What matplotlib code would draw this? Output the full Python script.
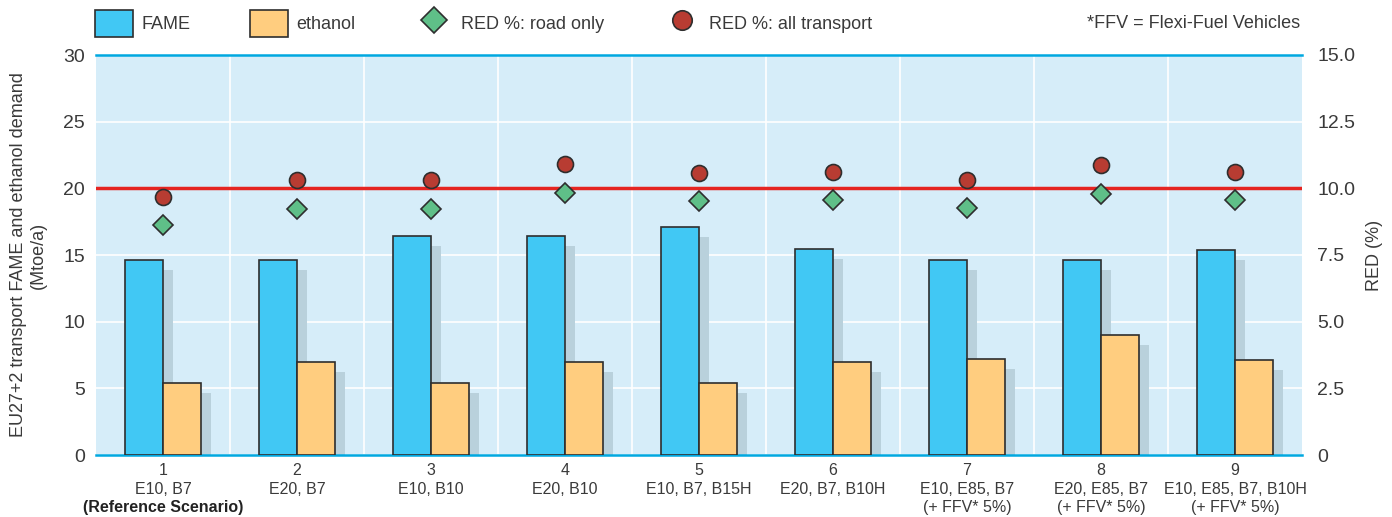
import matplotlib
matplotlib.use("Agg")
import matplotlib.pyplot as plt
import numpy as np
from matplotlib.lines import Line2D
from matplotlib.patches import Patch

plt.rcParams["font.family"] = ["Liberation Sans", "DejaVu Sans"]

scenarios = ["1", "2", "3", "4", "5", "6", "7", "8", "9"]
blends = ["E10, B7", "E20, B7", "E10, B10", "E20, B10", "E10, B7, B15H",
          "E20, B7, B10H", "E10, E85, B7", "E20, E85, B7", "E10, E85, B7, B10H"]
notes = ["(Reference Scenario)", "", "", "", "", "",
         "(+ FFV* 5%)", "(+ FFV* 5%)", "(+ FFV* 5%)"]
fame = [14.6, 14.6, 16.4, 16.4, 17.1, 15.45, 14.6, 14.6, 15.4]
ethanol = [5.4, 7.0, 5.4, 6.95, 5.4, 7.0, 7.2, 9.0, 7.15]
red_road = [8.62, 9.22, 9.22, 9.82, 9.52, 9.56, 9.26, 9.79, 9.56]
red_all = [9.67, 10.31, 10.3, 10.91, 10.57, 10.61, 10.3, 10.87, 10.6]
red_target = 10.0
left_ticks = [0, 5, 10, 15, 20, 25, 30]
right_ticks = [0, 2.5, 5.0, 7.5, 10.0, 12.5, 15.0]
right_labels = ["0", "2.5", "5.0", "7.5", "10.0", "12.5", "15.0"]

c_fame = "#41c8f4"
c_eth = "#ffcd7f"
c_shadow = "#b9d1dc"
c_bg = "#d6edf9"
c_edge = "#2e2e2e"
c_text = "#3a3a3a"
c_axis = "#00a8e0"

fig = plt.figure(figsize=(13.92, 5.17), dpi=100)
ax = fig.add_axes([96 / 1392, 1 - 455 / 517, 1206 / 1392, 400 / 517])
ax.set_facecolor(c_bg)

x = np.arange(1, len(scenarios) + 1)
w = 0.284
dx, dy = 0.075, 0.75

# drop shadows
ax.bar(x - w / 2 + dx, np.array(fame) - dy, w, color=c_shadow, zorder=2)
ax.bar(x + w / 2 + dx, np.array(ethanol) - dy, w, color=c_shadow, zorder=2)
ax.bar(x - w / 2, fame, w, color=c_fame, edgecolor=c_edge, linewidth=1.2, zorder=3)
ax.bar(x + w / 2, ethanol, w, color=c_eth, edgecolor=c_edge, linewidth=1.2, zorder=3)

ax.set_xlim(0.5, len(scenarios) + 0.5)
ax.set_ylim(0, 30)
ax.set_yticks(left_ticks)
ax.set_xticks(x)
ax.set_xticklabels([f"{s}\n{b}" for s, b in zip(scenarios, blends)],
                   fontsize=12, color=c_text, linespacing=1.3)
ax.set_xticks(np.arange(1.5, len(scenarios)), minor=True)
ax.tick_params(axis="both", which="both", length=0, labelsize=14, labelcolor=c_text)
ax.tick_params(axis="y", pad=8)
ax.tick_params(axis="x", labelsize=11.5, pad=6)
ax.grid(axis="y", color="white", linewidth=1.2, zorder=0)
ax.grid(axis="x", which="minor", color="white", linewidth=1.2, zorder=0)
ax.set_axisbelow(True)
for side in ["left", "right"]:
    ax.spines[side].set_visible(False)
for side in ["top", "bottom"]:
    ax.spines[side].set_color(c_axis)
    ax.spines[side].set_linewidth(1.8)
ax.set_ylabel("EU27+2 transport FAME and ethanol demand\n(Mtoe/a)",
              fontsize=13, color=c_text, labelpad=12, linespacing=1.2)

for xi, note in zip(x, notes):
    if note:
        ax.annotate(note, xy=(xi, 0), xycoords=("data", "axes fraction"),
                    xytext=(0, -38), textcoords="offset points", ha="center", va="center",
                    fontsize=11.5, color="#222222" if xi == 1 else c_text,
                    fontweight="bold" if xi == 1 else "normal")

ax2 = ax.twinx()
ax2.set_ylim(0, 15)
ax2.set_yticks(right_ticks)
ax2.set_yticklabels(right_labels)
ax2.tick_params(axis="y", length=0, labelsize=14, labelcolor=c_text, pad=11)
for side in ["left", "right", "top", "bottom"]:
    ax2.spines[side].set_visible(False)
ax2.axhline(red_target, color="#e52521", linewidth=2.5, zorder=4)
ax2.plot(x, red_road, linestyle="none", marker="D", markersize=10,
         markerfacecolor="#5fbf88", markeredgecolor=c_edge, markeredgewidth=1.2, zorder=5)
ax2.plot(x, red_all, linestyle="none", marker="o", markersize=11.5,
         markerfacecolor="#b83c32", markeredgecolor=c_edge, markeredgewidth=1.2, zorder=5)
ax2.set_ylabel("RED (%)", fontsize=13, color=c_text, labelpad=8)

handles = [
    Patch(facecolor=c_fame, edgecolor=c_edge, linewidth=1.2),
    Patch(facecolor=c_eth, edgecolor=c_edge, linewidth=1.2),
    Line2D([], [], linestyle="none", marker="D", markersize=13,
           markerfacecolor="#5fbf88", markeredgecolor=c_edge, markeredgewidth=1.2),
    Line2D([], [], linestyle="none", marker="o", markersize=14,
           markerfacecolor="#b83c32", markeredgecolor=c_edge, markeredgewidth=1.2),
]
labels = ["FAME", "ethanol", "RED %: road only", "RED %: all transport"]
fig.legend(handles, labels, ncol=4, loc="upper left", bbox_to_anchor=(79 / 1392, 1.012),
           frameon=False, fontsize=13, handlelength=2.1, handleheight=1.9,
           handletextpad=0.45, columnspacing=3.3, labelcolor=c_text)
fig.text(1300 / 1392, 1 - 24 / 517, "*FFV = Flexi-Fuel Vehicles", ha="right", va="center",
         fontsize=13, color=c_text)

fig.savefig("out.png", dpi=100)
